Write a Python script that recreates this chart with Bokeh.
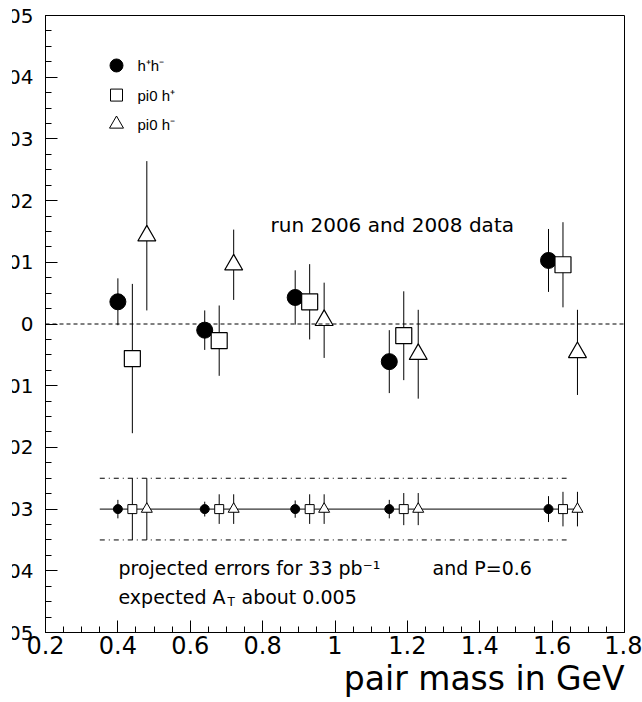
import numpy as np
from bokeh.plotting import figure
from bokeh.models import Label, Span, FixedTicker, Title
from bokeh.embed import file_html
from bokeh.resources import INLINE

# ---------------- data ----------------
hh_x = [0.40, 0.64, 0.89, 1.15, 1.59]
hh_y = [0.0036, -0.0010, 0.0043, -0.0061, 0.0103]
hh_err = [0.0038, 0.0032, 0.0044, 0.0051, 0.0051]

pp_x = [0.44, 0.68, 0.93, 1.19, 1.63]
pp_y = [-0.0056, -0.0027, 0.0036, -0.0019, 0.0096]
pp_err = [0.0121, 0.0057, 0.0061, 0.0072, 0.0069]

pm_x = [0.48, 0.72, 0.97, 1.23, 1.67]
pm_y = [0.0143, 0.0096, 0.0006, -0.0049, -0.0046]
pm_err = [0.0121, 0.0057, 0.0061, 0.0072, 0.0069]

proj_level = -0.03
proj_hh_err = [0.0015, 0.0012, 0.0014, 0.0015, 0.0021]
proj_pp_err = [0.0050, 0.0024, 0.0024, 0.0026, 0.0028]
proj_pm_err = [0.0050, 0.0024, 0.0024, 0.0026, 0.0028]
proj_band = [-0.025, -0.035]
proj_line_x = [0.35, 1.67]
band_line_x = [0.35, 1.64]

x_ticks = [0.2, 0.4, 0.6, 0.8, 1.0, 1.2, 1.4, 1.6, 1.8]
x_tick_labels = ["0.2", "0.4", "0.6", "0.8", "1", "1.2", "1.4", "1.6", "1.8"]
y_ticks = [-0.05, -0.04, -0.03, -0.02, -0.01, 0.0, 0.01, 0.02, 0.03, 0.04, 0.05]
y_tick_labels = ["-0.05", "-0.04", "-0.03", "-0.02", "-0.01", "0",
                 "0.01", "0.02", "0.03", "0.04", "0.05"]

legend_labels = ["h\u207ah\u207b", "pi0 h\u207a", "pi0 h\u207b"]

# ---------------- figure ----------------
FONT = "DejaVu Sans"
X0, X1, Y0, Y1 = 0.2, 1.8, -0.05, 0.05
WIN_W, H = 642, 702
SHIFT = 45            # left part of the canvas hidden past the window edge (labels cut as in original)
CLIP = 12             # blank strip at the left edge, as in the original picture
ML, MR, MT, MB = 45 + SHIFT, 18, 15, 70
W = WIN_W + SHIFT
pxx = (W - ML - MR) / (X1 - X0)
pxy = (H - MT - MB) / (Y1 - Y0)

p = figure(width=W, height=H, x_range=(X0, X1), y_range=(Y0, Y1),
           output_backend="svg", toolbar_location=None,
           min_border_left=ML, min_border_right=MR,
           min_border_top=MT, min_border_bottom=MB)
p.styles = {"margin-left": f"-{SHIFT}px",
            "clip-path": f"inset(0px 0px 0px {SHIFT + CLIP}px)"}
p.grid.visible = False
p.outline_line_color = "black"
p.outline_line_width = 1
p.background_fill_color = "white"
p.border_fill_color = "white"

p.xaxis.ticker = FixedTicker(ticks=x_ticks,
                             minor_ticks=list(np.round(np.arange(0.2, 1.8001, 0.05), 3)))
p.xaxis.major_label_overrides = {t: l for t, l in zip(x_ticks, x_tick_labels)}
p.xaxis.major_label_text_font_size = "24px"
p.xaxis.major_label_standoff = 3

p.yaxis.ticker = FixedTicker(ticks=y_ticks,
                             minor_ticks=list(np.round(np.arange(-0.05, 0.05001, 0.0025), 5)))
p.yaxis.major_label_overrides = {t: l for t, l in zip(y_ticks, y_tick_labels)}
p.yaxis.major_label_text_font_size = "20px"
p.yaxis.major_label_standoff = 12

for ax in (p.xaxis, p.yaxis):
    ax.major_label_text_font = FONT
    ax.major_label_text_color = "black"
    ax.major_tick_in = 12
    ax.major_tick_out = 0
    ax.minor_tick_in = 6
    ax.minor_tick_out = 0
    ax.axis_line_color = "black"
    ax.major_tick_line_color = "black"
    ax.minor_tick_line_color = "black"

# x-axis title, right aligned as in the original
p.add_layout(Title(text="pair mass in GeV", align="right", text_font=FONT,
                   text_font_size="33px", text_font_style="normal",
                   text_color="black", standoff=0), "below")

# zero line
p.add_layout(Span(location=0, dimension="width", line_color="black",
                  line_dash="4 3", line_width=1))

# ---------------- measured points ----------------
def ebars(xs, ys, es, color="black"):
    ys = np.array(ys); es = np.array(es)
    p.segment(x0=xs, y0=ys - es, x1=xs, y1=ys + es, line_color=color, line_width=1)

ebars(hh_x, hh_y, hh_err)
ebars(pp_x, pp_y, pp_err)
ebars(pm_x, pm_y, pm_err)
p.scatter(hh_x, hh_y, marker="circle", size=16, fill_color="black", line_color="black")
p.scatter(pp_x, pp_y, marker="square", size=16, fill_color="white", line_color="black", line_width=1.2)
p.scatter(pm_x, pm_y, marker="triangle", size=18, fill_color="white", line_color="black", line_width=1.2)

# ---------------- projected errors ----------------
for b in proj_band:
    p.line(band_line_x, [b, b], line_color="black", line_width=1, line_dash="5 4 1 4")
p.line(proj_line_x, [proj_level, proj_level], line_color="black", line_width=1)
lev = [proj_level] * 5
ebars(hh_x, lev, proj_hh_err)
ebars(pp_x, lev, proj_pp_err)
ebars(pm_x, lev, proj_pm_err)
p.scatter(hh_x, lev, marker="circle", size=9, fill_color="black", line_color="black")
p.scatter(pp_x, lev, marker="square", size=9, fill_color="white", line_color="black")
p.scatter(pm_x, lev, marker="triangle", size=11, fill_color="white", line_color="black")

# ---------------- legend ----------------
leg_x = X0 + 71 / pxx
leg_ys = [0.0419, 0.0371, 0.0324]
p.scatter([leg_x], [leg_ys[0]], marker="circle", size=13, fill_color="black", line_color="black")
p.scatter([leg_x], [leg_ys[1]], marker="square", size=12, fill_color="white", line_color="black")
p.scatter([leg_x], [leg_ys[2]], marker="triangle", size=14, fill_color="white", line_color="black")
for yy, t in zip(leg_ys, legend_labels):
    p.add_layout(Label(x=X0 + 92 / pxx, y=yy, text=t, text_align="left",
                       text_baseline="middle", text_font="Liberation Sans",
                       text_font_size="15px", text_color="black"))

# ---------------- texts ----------------
def lab(x, y, t, size="19px", align="left", baseline="middle", xo=0, yo=0):
    p.add_layout(Label(x=x, y=y, text=t, text_align=align, text_baseline=baseline,
                       text_font=FONT, text_font_size=size, text_color="black",
                       x_offset=xo, y_offset=yo))

lab(X0 + 225 / pxx, 0.0160, "run 2006 and 2008 data", size="20px")
lab(X0 + 73 / pxx, -0.0395, "projected errors for 33 pb\u207b\u00b9")
lab(X0 + 387 / pxx, -0.0395, "and P=0.6")
tx = X0 + 73 / pxx
ty = -0.0443
lab(tx, ty, "expected A")
lab(tx, ty, "T", size="12px", baseline="top", xo=109, yo=2)
lab(tx, ty, "about 0.005", xo=123)

open("out.html", "w").write(file_html(p, INLINE))
